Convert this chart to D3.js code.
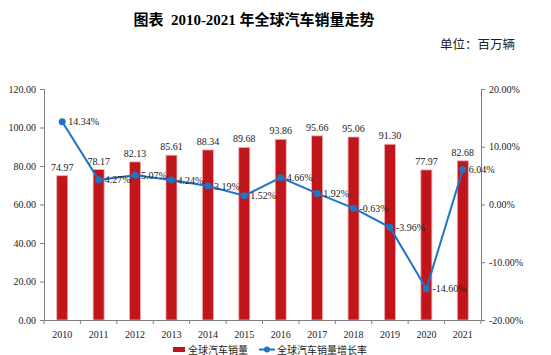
<!DOCTYPE html>
<html><head><meta charset="utf-8">
<script src="https://cdn.jsdelivr.net/npm/d3@7"></script>
<style>
body{margin:0;background:#fff;}
svg{display:block;}
</style></head>
<body>
<svg id="c" width="551" height="355"></svg>
<script>
const years = ["2010","2011","2012","2013","2014","2015","2016","2017","2018","2019","2020","2021"];
const sales = [74.97,78.17,82.13,85.61,88.34,89.68,93.86,95.66,95.06,91.30,77.97,82.68];
const growth = [14.34,4.27,5.07,4.24,3.19,1.52,4.66,1.92,-0.63,-3.96,-14.60,6.04];
const leftTicks = [0,20,40,60,80,100,120];
const rightTicks = [-20,-10,0,10,20];
const titleText = "图表  2010-2021 年全球汽车销量走势";
const unitText = "单位：百万辆";
const legendNames = ["全球汽车销量","全球汽车销量增长率"];

const svg = d3.select("#c");
const L = 44, R = 481, T = 89, B = 320;
const serif = "'Liberation Serif','Times New Roman',serif";
const cjk = "'Liberation Serif','Noto Sans CJK SC',serif";
const red = "#C0161B", blue = "#1F74C8", axisCol = "#7f7f7f";

const x = d3.scaleBand().domain(years).range([L,R]);
const yL = d3.scaleLinear().domain([0,120]).range([B,T]);
const yR = d3.scaleLinear().domain([-20,20]).range([B,T]);

// title
svg.append("text").attr("x",254).attr("y",25).attr("text-anchor","middle")
  .attr("font-family",cjk).attr("font-weight","bold").attr("font-size",15).attr("fill","#000")
  .style("white-space","pre").text(titleText);
svg.append("text").attr("x",515).attr("y",49).attr("text-anchor","end")
  .attr("font-family","'Noto Sans CJK SC',sans-serif").attr("font-size",12.5).attr("fill","#222").text(unitText);

// bars
const bw = 11;
svg.append("g").selectAll("rect").data(years).join("rect")
  .attr("x",d=>x(d)+x.bandwidth()/2-bw/2).attr("width",bw)
  .attr("y",(d,i)=>yL(sales[i])).attr("height",(d,i)=>yL(0)-yL(sales[i]))
  .attr("fill",red).attr("stroke","#f0b0b0").attr("stroke-width",0.8);

svg.append("g").selectAll("text").data(years).join("text")
  .attr("x",d=>x(d)+x.bandwidth()/2).attr("y",(d,i)=>yL(sales[i])-5)
  .attr("text-anchor","middle").attr("font-family",serif).attr("font-size",10).attr("fill","#222")
  .text((d,i)=>sales[i].toFixed(2));

// axes
const axL = svg.append("g").attr("transform",`translate(${L},0)`)
  .call(d3.axisLeft(yL).tickValues(leftTicks).tickFormat(d=>d.toFixed(2)).tickSizeOuter(0).tickSize(4).tickPadding(4));
const axR = svg.append("g").attr("transform",`translate(${R},0)`)
  .call(d3.axisRight(yR).tickValues(rightTicks).tickFormat(d=>d.toFixed(2)+"%").tickSizeOuter(0).tickSize(4).tickPadding(4));
const axB = svg.append("g").attr("transform",`translate(0,${B})`)
  .call(d3.axisBottom(x).tickSize(0).tickPadding(11));
// bottom ticks at band boundaries
svg.append("g").selectAll("line").data(d3.range(years.length+1)).join("line")
  .attr("x1",i=>L+i*x.step()).attr("x2",i=>L+i*x.step()).attr("y1",B).attr("y2",B+4)
  .attr("stroke",axisCol);
[axL,axR,axB].forEach(a=>{
  a.selectAll("path,line").attr("stroke",axisCol);
  a.selectAll("text").attr("font-family",serif).attr("font-size",10).attr("fill","#222");
});

// line
const cx = d=>x(d)+x.bandwidth()/2;
svg.append("path").datum(years)
  .attr("d",d3.line().x(cx).y((d,i)=>yR(growth[i])))
  .attr("fill","none").attr("stroke",blue).attr("stroke-width",2);
svg.append("g").selectAll("circle").data(years).join("circle")
  .attr("cx",cx).attr("cy",(d,i)=>yR(growth[i])).attr("r",3.5).attr("fill",blue);
svg.append("g").selectAll("text").data(years).join("text")
  .attr("x",d=>cx(d)+6).attr("y",(d,i)=>yR(growth[i])).attr("dy","0.35em")
  .attr("font-family",serif).attr("font-size",10).attr("fill","#222")
  .text((d,i)=>growth[i].toFixed(2)+"%");

// legend
const lg = svg.append("g");
lg.append("rect").attr("x",173).attr("y",347).attr("width",12).attr("height",5).attr("fill",red);
lg.append("text").attr("x",188).attr("y",353.5).attr("font-family","'Noto Sans CJK SC',sans-serif")
  .attr("font-size",10).attr("fill","#222").text(legendNames[0]);
lg.append("line").attr("x1",259).attr("x2",275).attr("y1",349.5).attr("y2",349.5).attr("stroke",blue).attr("stroke-width",2);
lg.append("circle").attr("cx",267).attr("cy",349.5).attr("r",3).attr("fill",blue);
lg.append("text").attr("x",277).attr("y",353.5).attr("font-family","'Noto Sans CJK SC',sans-serif")
  .attr("font-size",10).attr("fill","#222").text(legendNames[1]);
</script>
</body></html>
